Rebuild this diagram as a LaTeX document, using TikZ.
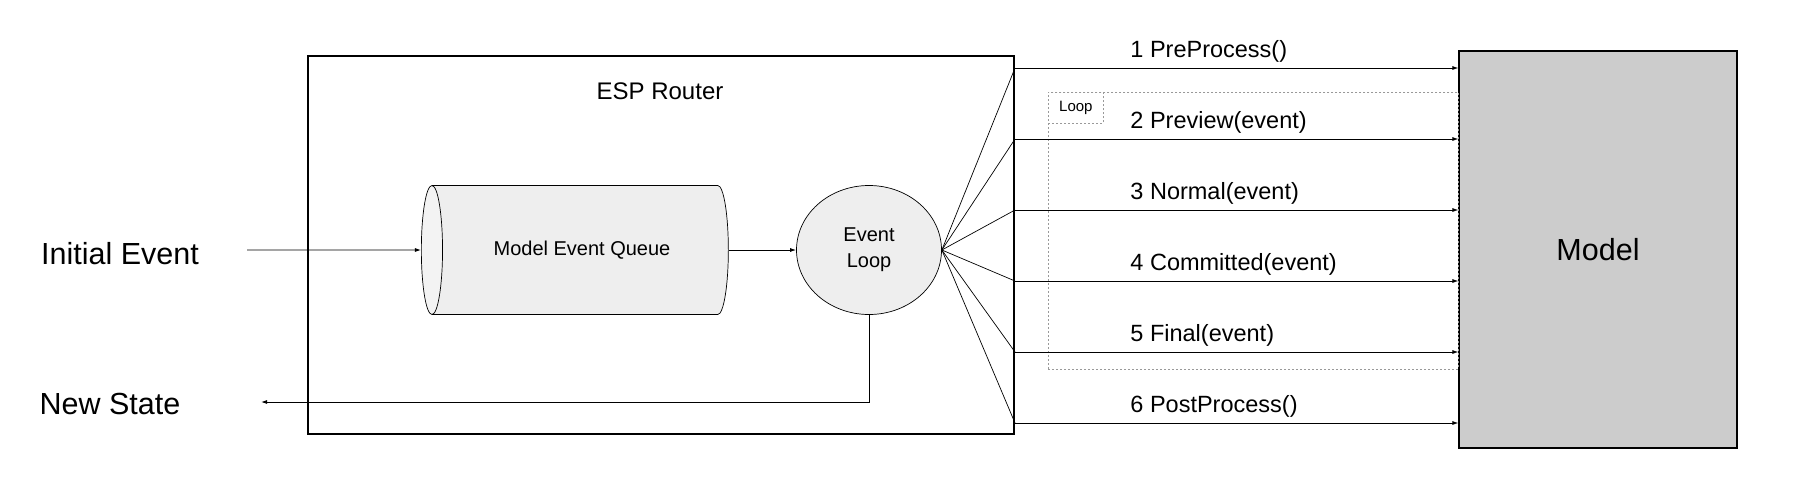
\documentclass[tikz,border=0pt]{standalone}
\usepackage{fontspec}
\setmainfont{Liberation Sans}
\usepackage{xcolor}
\usetikzlibrary{positioning, arrows.meta}
\usetikzlibrary{shapes, shapes.geometric}

\definecolor{queuegray}{HTML}{EEEEEE}
\definecolor{queueend}{HTML}{F3F3F3}
\definecolor{modelgray}{HTML}{CCCCCC}
\definecolor{loopline}{HTML}{999999}

\begin{document}
\begin{tikzpicture}[x=1pt, y=-1pt, ->, >={Latex[length=6pt,width=4pt]}, line width=0.9pt]
		\useasboundingbox (0,0) rectangle (1802,485);
		
		\node[rectangle, draw, line width=1.1pt, minimum width=706pt, minimum height=378pt] (router) at (661,245) {};
		\node[font=\fontsize{24}{28}\selectfont] (router-title) at (660,91) {ESP Router};
		
		\node[cylinder, draw, line width=0.7pt, shape border rotate=180, aspect=0.85, cylinder uses custom fill, cylinder body fill=queuegray, cylinder end fill=queueend, minimum width=129pt, minimum height=307pt, font=\fontsize{20}{24}\selectfont] (queue) at (582,250) {Model Event Queue};
		
		\node[ellipse, draw, line width=0.7pt, fill=queuegray, minimum width=145pt, minimum height=129pt, align=center, font=\fontsize{20}{26}\selectfont] (evloop) at (869,250) {Event\\Loop};
		
		\node[font=\fontsize{30.5}{36}\selectfont] (initial) at (120,254) {Initial Event};
		\coordinate (initial-out) at (247,250);
		\draw (initial-out) -- (queue.west);
		\draw (queue.east) -- (evloop.west);
		
		\node[font=\fontsize{30.5}{36}\selectfont] (newstate) at (110,404) {New State};
		\coordinate (newstate-in) at (261,402);
		\draw (evloop.south) |- (newstate-in);
		
		\node[rectangle, draw, fill=modelgray, line width=1.1pt, minimum width=278pt, minimum height=397pt, font=\fontsize{30.5}{36}\selectfont] (model) at (1598,249.5) {Model};
		
		\node[rectangle, draw=loopline, dash pattern=on 2pt off 2pt, line width=0.8pt, minimum width=410pt, minimum height=277pt, anchor=north west] (loopframe) at (1048,92) {};
		\node[rectangle, draw=loopline, dash pattern=on 2pt off 2pt, line width=0.8pt, minimum width=55pt, minimum height=31pt, anchor=north west, font=\fontsize{15}{18}\selectfont] (looptag) at (loopframe.north west) {Loop};
		
		\foreach \i/\y/\txt in {1/68/1 PreProcess(), 2/139/2 Preview(event), 3/210/3 Normal(event), 4/281/4 Committed(event), 5/352/5 Final(event), 6/423/6 PostProcess()} {
			\coordinate (fan\i) at (1015,\y);
			\draw[-, line width=0.7pt] (evloop.east) -- (fan\i);
			\draw (fan\i) -- (model.west |- fan\i);
			\node[anchor=base west, inner sep=0pt, font=\fontsize{23.5}{28}\selectfont] (call\i) at (1130,\y-11) {\txt};
		}
		
	\end{tikzpicture}
\end{document}
